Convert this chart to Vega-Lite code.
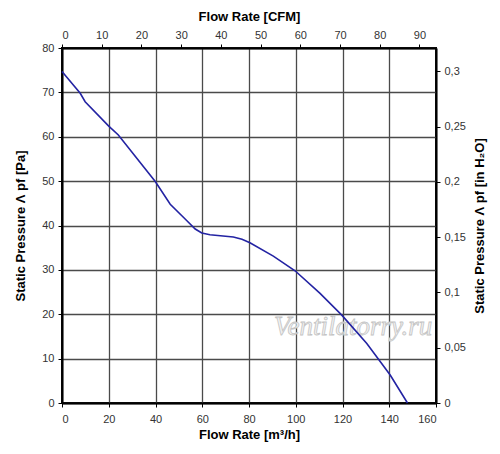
{
  "$schema": "https://vega.github.io/schema/vega-lite/v6.json",
  "width": 374,
  "height": 355,
  "autosize": "none",
  "padding": {"left": 62, "top": 48, "right": 64, "bottom": 51},
  "background": "white",
  "datasets": {
    "curve": [
      {"flow": 0, "pressure": 74.7},
      {"flow": 7.8, "pressure": 69.8},
      {"flow": 9.9, "pressure": 67.9},
      {"flow": 20, "pressure": 62.4},
      {"flow": 24.1, "pressure": 60.4},
      {"flow": 39.9, "pressure": 49.9},
      {"flow": 46.3, "pressure": 44.8},
      {"flow": 53, "pressure": 41.3},
      {"flow": 57, "pressure": 39.2},
      {"flow": 59.8, "pressure": 38.3},
      {"flow": 63.3, "pressure": 37.9},
      {"flow": 73.3, "pressure": 37.4},
      {"flow": 77, "pressure": 36.9},
      {"flow": 80.4, "pressure": 36.1},
      {"flow": 90.4, "pressure": 33.1},
      {"flow": 99.7, "pressure": 29.8},
      {"flow": 110.4, "pressure": 24.7},
      {"flow": 119.7, "pressure": 19.8},
      {"flow": 130.4, "pressure": 13.4},
      {"flow": 140.4, "pressure": 6.3},
      {"flow": 147.8, "pressure": 0}
    ],
    "mark": [
      {"flow": 124.5, "pressure": 17.2, "label": "Ventilatorry.ru"}
    ]
  },
  "layer": [
    {
      "encoding": {
        "x": {
          "field": "flow",
          "type": "quantitative",
          "scale": {"domain": [0, 160], "nice": false},
          "axis": {
            "orient": "bottom",
            "title": "Flow Rate [m³/h]",
            "values": [0, 20, 40, 60, 80, 100, 120, 140, 160],
            "grid": true,
            "gridColor": "#4a4a4a",
            "gridWidth": 1.3,
            "gridOpacity": 1,
            "titleY": 25,
            "labelPadding": 6
          }
        },
        "y": {
          "field": "pressure",
          "type": "quantitative",
          "scale": {"domain": [0, 80], "nice": false},
          "axis": {
            "orient": "left",
            "title": "Static Pressure Λ pf [Pa]",
            "values": [0, 10, 20, 30, 40, 50, 60, 70, 80],
            "grid": true,
            "gridColor": "#4a4a4a",
            "gridWidth": 1.3,
            "gridOpacity": 1,
            "titleX": -35,
            "labelPadding": 4
          }
        }
      },
      "layer": [
        {
          "data": {"name": "mark"},
          "mark": {
            "type": "text",
            "font": "Liberation Serif",
            "fontStyle": "italic",
            "fontSize": 27,
            "fill": "#f2f2f2",
            "stroke": "#c4c4c4",
            "strokeWidth": 0.8
          },
          "encoding": {
            "text": {"field": "label"}
          }
        },
        {
          "data": {"name": "curve"},
          "mark": {"type": "line", "color": "#2323a3", "strokeWidth": 1.6}
        }
      ]
    },
    {
      "data": {"values": [{}]},
      "mark": {"type": "rule", "opacity": 0},
      "encoding": {
        "x": {
          "datum": 0,
          "type": "quantitative",
          "scale": {"domain": [0, 94.17], "nice": false},
          "axis": {
            "orient": "top",
            "title": "Flow Rate [CFM]",
            "values": [0, 10, 20, 30, 40, 50, 60, 70, 80, 90],
            "grid": false,
            "titleY": -25,
            "labelPadding": 4
          }
        },
        "y": {
          "datum": 0,
          "type": "quantitative",
          "scale": {"domain": [0, 0.32117], "nice": false},
          "axis": {
            "orient": "right",
            "title": "Static Pressure Λ pf [in H₂O]",
            "values": [0, 0.05, 0.1, 0.15, 0.2, 0.25, 0.3],
            "labelExpr": "replace(format(datum.value, '~g'), '.', ',')",
            "grid": false,
            "titleAngle": 270,
            "titleX": 50,
            "labelPadding": 4
          }
        }
      }
    }
  ],
  "resolve": {"scale": {"x": "independent", "y": "independent"}},
  "config": {
    "view": {"stroke": "#000000", "strokeWidth": 2},
    "axis": {
      "domainColor": "#000000",
      "domainWidth": 2,
      "tickColor": "#000000",
      "tickSize": 4,
      "labelFont": "Liberation Sans",
      "labelFontSize": 11,
      "labelColor": "#333333",
      "titleFont": "Liberation Sans",
      "titleFontSize": 13,
      "titleFontWeight": "bold",
      "titleColor": "#000000"
    }
  }
}
